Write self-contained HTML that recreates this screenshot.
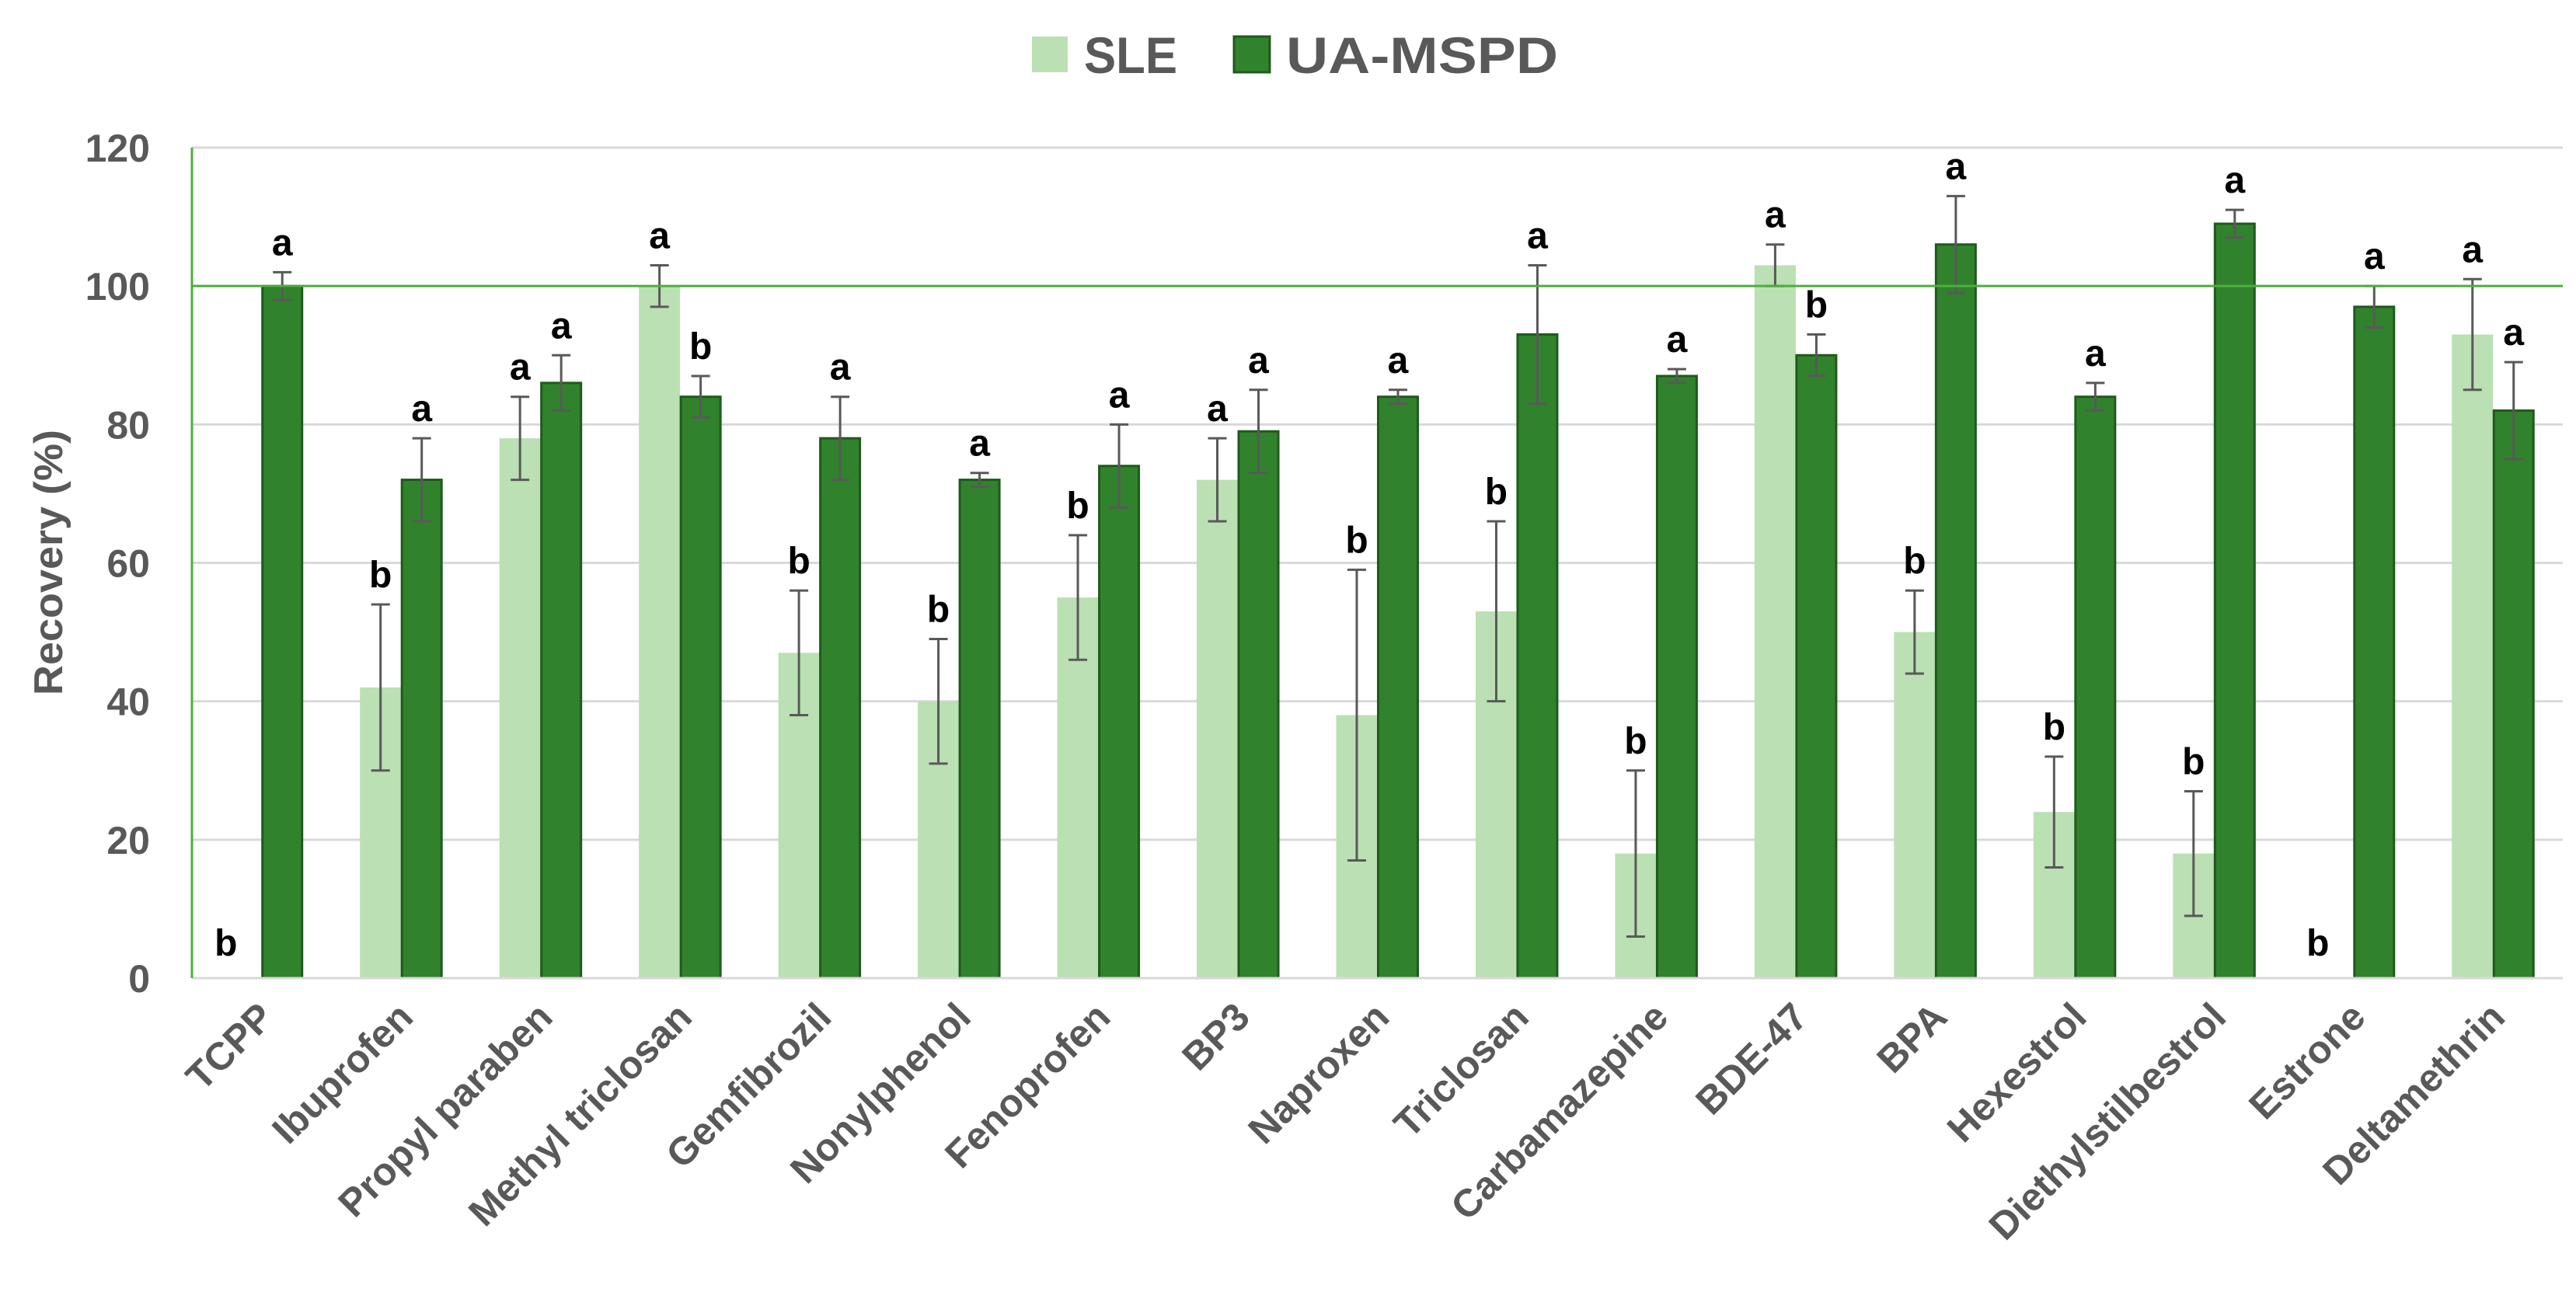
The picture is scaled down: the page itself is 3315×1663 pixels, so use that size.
<!DOCTYPE html>
<html><head><meta charset="utf-8"><style>
html,body{margin:0;padding:0;background:#fff;}
svg{display:block;font-family:"Liberation Sans",sans-serif;}
</style></head><body>
<svg id="chart" width="3315" height="1663" viewBox="0 0 3315 1663" xmlns="http://www.w3.org/2000/svg">
<g id="grid"></g>
<g id="bars"></g>
<g id="axes"></g>
<g id="legend">
  <rect x="1328" y="47" width="46" height="46" fill="#bbe0b3"/>
  <text x="1395" y="94" font-size="66" font-weight="bold" fill="#595959" textLength="120" lengthAdjust="spacingAndGlyphs">SLE</text>
  <rect x="1588" y="47" width="46" height="46" fill="#31822c" stroke="#1f5a1c" stroke-width="3"/>
  <text x="1655" y="94" font-size="66" font-weight="bold" fill="#595959" textLength="350" lengthAdjust="spacingAndGlyphs">UA-MSPD</text>
</g>
<text transform="translate(80,724) rotate(-90)" text-anchor="middle" font-size="52" font-weight="bold" fill="#595959" textLength="342" lengthAdjust="spacingAndGlyphs">Recovery (%)</text>
</svg>
<script>
const categories = ["TCPP","Ibuprofen","Propyl paraben","Methyl triclosan","Gemfibrozil","Nonylphenol","Fenoprofen","BP3","Naproxen","Triclosan","Carbamazepine","BDE-47","BPA","Hexestrol","Diethylstilbestrol","Estrone","Deltamethrin"];
const sleValues = [0,42,78,100,47,40,55,72,38,53,18,103,50,24,18,0,93];
const sleErrors = [0,12,6,3,9,9,9,6,21,13,12,3,6,8,9,0,8];
const uaValues = [100,72,86,84,78,72,74,79,84,93,87,90,106,84,109,97,82];
const uaErrors = [2,6,4,3,6,1,6,6,1,10,1,3,7,2,2,3,7];
const sleLetters = ["b","b","a","a","b","b","b","a","b","b","b","a","b","b","b","b","a"];
const uaLetters = ["a","a","a","b","a","a","a","a","a","a","a","b","a","a","a","a","a"];
const yTicks = [0,20,40,60,80,100,120];

const NS = "http://www.w3.org/2000/svg";
const X0 = 247, X1 = 3298, Y0 = 1259, Y120 = 190;
const step = (X1 - X0) / categories.length;
function yScale(v){ return Y0 - (Y0 - Y120) * v / 120; }
function xCenter(i){ return X0 + step * (i + 0.5); }
function mk(tag, attrs, parent){ const e = document.createElementNS(NS, tag); for (const k in attrs) e.setAttribute(k, attrs[k]); parent.appendChild(e); return e; }

const grid = document.getElementById('grid');
const bars = document.getElementById('bars');
const axes = document.getElementById('axes');

yTicks.forEach(function(t){
  const y = yScale(t);
  if (t !== 0 && t !== 100) {
    const l = mk('line', {x1: X0, x2: X1, y1: y, y2: y, stroke: '#d9d9d9', 'stroke-width': 3}, grid);
    
    
  }
  const tx = mk('text', {x: 193, y: y + 18, 'text-anchor': 'end', 'font-size': 50, 'font-weight': 'bold', fill: '#595959'}, axes);
  tx.textContent = t;
  
  
});

const W = 53;
categories.forEach(function(c, i){
  const cx = xCenter(i);
  if (sleValues[i] > 0) {
    const r = mk('rect', {x: cx - W, y: yScale(sleValues[i]), width: W, height: Y0 - yScale(sleValues[i]), fill: '#bbe0b3'}, bars);
    
    
  }
  const r2 = mk('rect', {x: cx + 1, y: yScale(uaValues[i]), width: W - 2, height: Y0 - yScale(uaValues[i]), fill: '#31822c', stroke: '#1f5a1c', 'stroke-width': 3}, bars);
  
  

  function errBar(x, v, e, name){
    if (v <= 0) return;
    const g = mk('g', {stroke: '#595959', 'stroke-width': 3}, bars);
    
    
    mk('line', {x1: x, x2: x, y1: yScale(v + e), y2: yScale(v - e)}, g);
    mk('line', {x1: x - 12, x2: x + 12, y1: yScale(v + e), y2: yScale(v + e)}, g);
    mk('line', {x1: x - 12, x2: x + 12, y1: yScale(v - e), y2: yScale(v - e)}, g);
  }
  errBar(cx - W / 2, sleValues[i], sleErrors[i], 'error-bar-sle-' + i);
  errBar(cx + W / 2, uaValues[i], uaErrors[i], 'error-bar-ua-mspd-' + i);

  let sy, sx = cx - W / 2;
  if (sleValues[i] > 0) { sy = yScale(sleValues[i] + sleErrors[i]) - 22; } else { sy = 1230; sx = cx - 46; }
  const l1 = mk('text', {x: sx, y: sy, 'text-anchor': 'middle', 'font-size': 48, 'font-weight': 'bold', fill: '#000'}, bars);
  l1.textContent = sleLetters[i];
  
  
  const l2 = mk('text', {x: cx + W / 2, y: yScale(uaValues[i] + uaErrors[i]) - 22, 'text-anchor': 'middle', 'font-size': 48, 'font-weight': 'bold', fill: '#000'}, bars);
  l2.textContent = uaLetters[i];
  
  

  const ax = cx + 18, ay = 1312;
  const xl = mk('text', {x: ax, y: ay, 'text-anchor': 'end', 'font-size': 50, 'font-weight': 'bold', fill: '#595959', transform: 'rotate(-45 ' + ax + ' ' + ay + ')'}, axes);
  xl.textContent = c;
  
  
});

const ref = mk('line', {x1: X0, x2: X1, y1: yScale(100), y2: yScale(100), stroke: '#4caf3a', 'stroke-width': 3}, axes);


const xa = mk('line', {x1: X0, x2: X1, y1: Y0, y2: Y0, stroke: '#d9d9d9', 'stroke-width': 3}, axes);


const ya = mk('line', {x1: X0, x2: X0, y1: Y120, y2: Y0, stroke: '#4caf3a', 'stroke-width': 3}, axes);


</script>
</body></html>
